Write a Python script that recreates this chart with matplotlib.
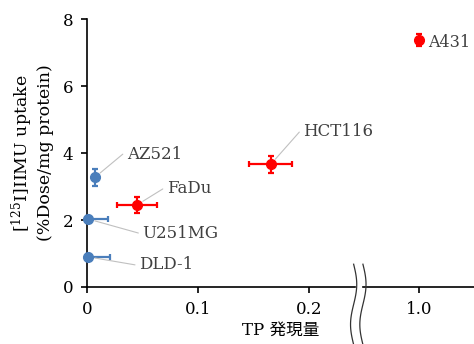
import numpy as np
import matplotlib
matplotlib.use('Agg')
import matplotlib.pyplot as plt

plt.rcParams['font.family'] = ['DejaVu Serif', 'Noto Sans CJK JP']
plt.rcParams['mathtext.fontset'] = 'dejavuserif'

# data (TP expression vs uptake)
names = ['AZ521', 'U251MG', 'DLD-1', 'FaDu', 'HCT116', 'A431']
tp = [0.007, 0.001, 0.001, 0.045, 0.1655, 1.0]
tp_err_lo = [0.0, 0.0, 0.0, 0.018, 0.0195, 0.0]
tp_err_hi = [0.0, 0.018, 0.02, 0.018, 0.0195, 0.0]
uptake = [3.27, 2.03, 0.90, 2.45, 3.66, 7.37]
uptake_err = [0.24, 0.10, 0.08, 0.23, 0.25, 0.19]
groups = ['blue', 'blue', 'blue', 'red', 'red', 'red']
label_pos = [(0.036, 3.97), (0.050, 1.61), (0.047, 0.66), (0.072, 2.93), (0.195, 4.63), (1.008, 7.31)]
xticks = [0, 0.1, 0.2, 1.0]
xticklabels = ['0', '0.1', '0.2', '1.0']

colors = {'blue': '#4a7ebb', 'red': '#ff0000'}

# broken x axis: squeeze 0.24..0.95 into a sliver
def fwd(x):
    return np.interp(x, [-1, 0.24, 0.95, 3], [-1, 0.24, 0.249, 2.299])

def inv(x):
    return np.interp(x, [-1, 0.24, 0.249, 2.299], [-1, 0.24, 0.95, 3])

fig = plt.figure(figsize=(4.74, 3.44), dpi=100)
ax = fig.add_axes([0.1835, 0.1657, 0.8165, 0.779])
ax.set_xscale('function', functions=(fwd, inv))

for i in range(len(names)):
    c = colors[groups[i]]
    xe = None
    if tp_err_hi[i] > 0:
        xe = [[tp_err_lo[i]], [tp_err_hi[i]]]
    ax.errorbar(tp[i], uptake[i], xerr=xe, yerr=uptake_err[i],
                fmt='o', color=c, ms=7, elinewidth=1.6, capsize=2.5, capthick=1.6, clip_on=False, zorder=3)
    tx, ty = label_pos[i]
    if names[i] == 'A431':
        ax.text(tx, ty, names[i], fontsize=11.5, color='#404040', va='center', ha='left')
    else:
        ax.annotate(names[i], xy=(tp[i], uptake[i]), xytext=(tx, ty), fontsize=12, color='#404040',
                    va='center', ha='left',
                    arrowprops=dict(arrowstyle='-', color='#c0c0c0', lw=0.8, shrinkA=1, shrinkB=5,
                                    relpos=(0, 0.5),
                                    connectionstyle='arc,angleA=180,armA=4,angleB=0,armB=0,rad=0'))

ax.set_xlim(0, inv(0.3486))
ax.set_ylim(0, 8)
ax.set_xticks(xticks)
ax.set_xticklabels(xticklabels)
ax.set_yticks([0, 2, 4, 6, 8])
ax.minorticks_off()
ax.tick_params(labelsize=12, length=4, width=1.2, pad=6)
for s in ['top', 'right']:
    ax.spines[s].set_visible(False)
for s in ['left', 'bottom']:
    ax.spines[s].set_linewidth(1.2)

ax.set_ylabel('[$^{125}$I]IIMU uptake\n(%Dose/mg protein)', fontsize=12.5, labelpad=6)
ax.set_xlabel('TP 発現量', fontsize=12, labelpad=3)

# break marks
t = np.linspace(0, 1, 60)
yy = 0.085 - t * 0.30
for x0 in [0.689, 0.713]:
    xx = x0 + 0.008 * np.sin(2 * np.pi * t)
    ax.plot(xx, yy, color='#333333', lw=0.9, transform=ax.transAxes, clip_on=False, zorder=5)
ax.fill_betweenx([-0.005, 0.005], 0.695, 0.707, color='white', transform=ax.transAxes,
                 clip_on=False, zorder=4)

fig.savefig('out.png', dpi=100)
